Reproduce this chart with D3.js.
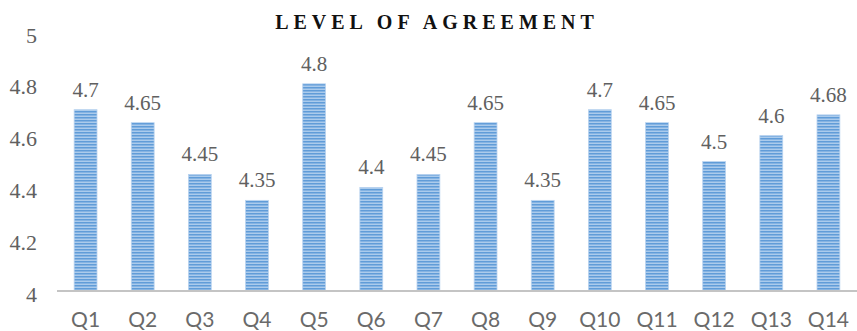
<!DOCTYPE html>
<html>
<head>
<meta charset="utf-8">
<script src="https://cdn.jsdelivr.net/npm/d3@7/dist/d3.min.js"></script>
<style>
  html, body { margin: 0; padding: 0; background: #fff; }
  svg { display: block; }
</style>
</head>
<body>
<svg id="chart" width="857" height="331"></svg>
<script>
// Level of agreement per question
const questions = ["Q1","Q2","Q3","Q4","Q5","Q6","Q7","Q8","Q9","Q10","Q11","Q12","Q13","Q14"];
const scores = [4.7, 4.65, 4.45, 4.35, 4.8, 4.4, 4.45, 4.65, 4.35, 4.7, 4.65, 4.5, 4.6, 4.68];
const yTicks = [4, 4.2, 4.4, 4.6, 4.8, 5];
const titleText = "LEVEL OF AGREEMENT";

const serif = "'Liberation Serif', 'Times New Roman', Times, serif";

const svg = d3.select("#chart");

// Horizontal striped fill for the bars
const defs = svg.append("defs");
const pat = defs.append("pattern")
  .attr("id", "stripes")
  .attr("patternUnits", "userSpaceOnUse")
  .attr("width", 8).attr("height", 3);
pat.append("rect").attr("width", 8).attr("height", 3).attr("fill", "#abcbec");
pat.append("rect").attr("y", 0).attr("width", 8).attr("height", 1.5).attr("fill", "#609cd8");

const x = d3.scaleBand()
  .domain(questions)
  .range([57, 857])
  .paddingInner(0.6)
  .paddingOuter(0.3);

const y = d3.scaleLinear().domain([4, 5]).range([291, 32]);

// Title
svg.append("text")
  .attr("x", 437).attr("y", 29)
  .attr("text-anchor", "middle")
  .style("font-family", serif)
  .style("font-weight", "bold")
  .style("font-size", "20px")
  .style("letter-spacing", "5px")
  .attr("fill", "#111")
  .text(titleText);

// Y axis labels (no line)
const yAxis = d3.axisLeft(y).tickValues(yTicks).tickSize(0).tickPadding(0)
  .tickFormat(d => d3.format("")(d));
const gy = svg.append("g").attr("transform", "translate(37,3)").call(yAxis);
gy.select(".domain").remove();
gy.selectAll("text")
  .style("font-family", serif)
  .style("font-size", "22px")
  .attr("fill", "#606060");

// Bars
svg.append("g").selectAll("rect")
  .data(questions)
  .join("rect")
  .attr("x", d => x(d))
  .attr("width", x.bandwidth())
  .attr("y", (d, i) => y(scores[i]))
  .attr("height", (d, i) => y(4) - y(scores[i]))
  .attr("fill", "url(#stripes)")
  .attr("stroke", "#b9d3ef")
  .attr("stroke-width", 0.8);

// Value labels
svg.append("g").selectAll("text")
  .data(questions)
  .join("text")
  .attr("x", d => x(d) + x.bandwidth() / 2)
  .attr("y", (d, i) => y(scores[i]) - 13)
  .attr("text-anchor", "middle")
  .style("font-family", serif)
  .style("font-size", "21px")
  .attr("fill", "#606060")
  .text((d, i) => scores[i]);

// X axis
const xAxis = d3.axisBottom(x).tickSize(0).tickPadding(0);
const gx = svg.append("g").attr("transform", "translate(0,291)").call(xAxis);
gx.select(".domain").attr("stroke", "#c4c4c4").attr("stroke-width", 2)
  .attr("d", "M57,0H857");
gx.selectAll("text")
  .attr("y", 35.5)
  .attr("dy", 0)
  .style("font-family", "Lato, 'Open Sans', sans-serif")
  .style("font-size", "21px")
  .attr("fill", "#6a6a6a");
</script>
</body>
</html>
